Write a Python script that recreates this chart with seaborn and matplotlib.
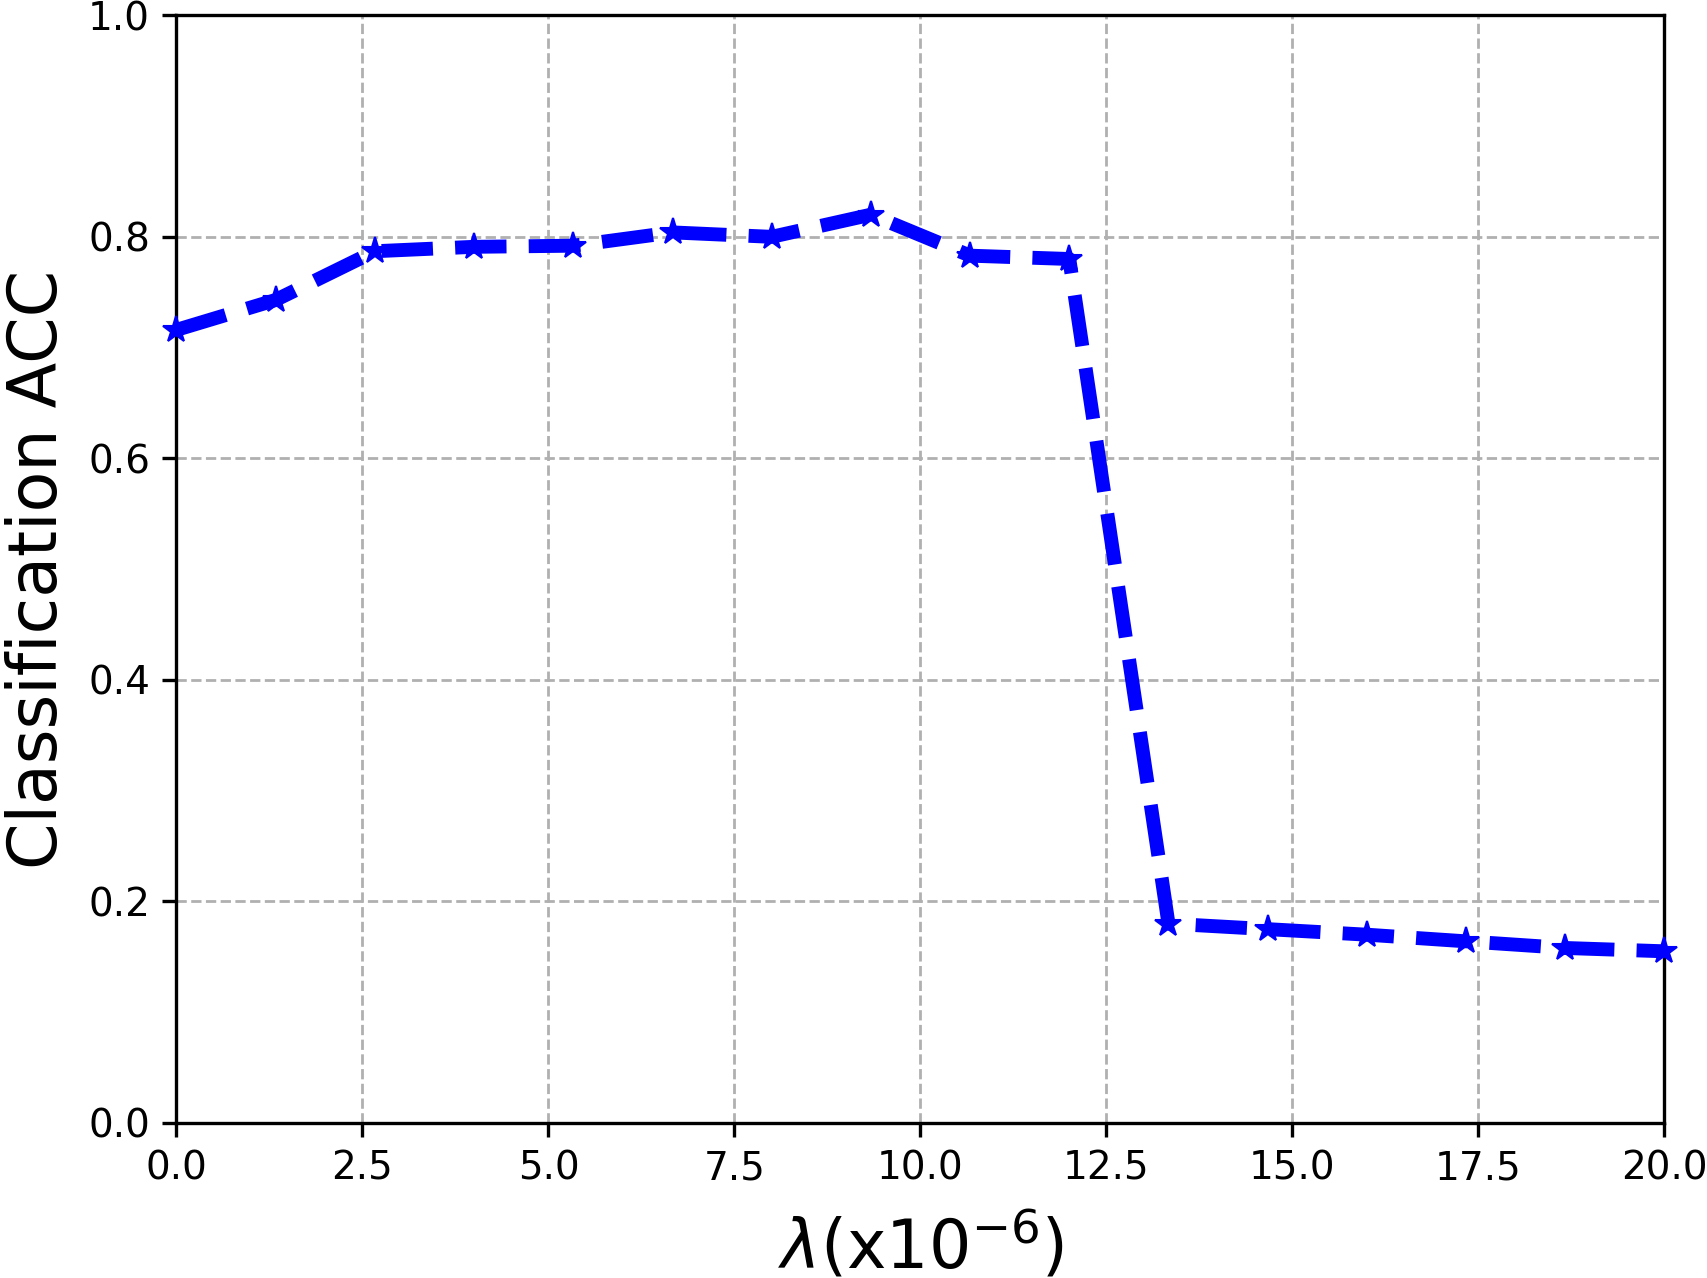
import numpy as np
import pandas as pd
import matplotlib
matplotlib.use("Agg")
import matplotlib.pyplot as plt
import seaborn as sns

lambdas = [0.0, 1.333, 2.667, 4.0, 5.333, 6.667, 8.0, 9.333, 10.667, 12.0,
           13.333, 14.667, 16.0, 17.333, 18.667, 20.0]
acc = [0.716, 0.743, 0.787, 0.791, 0.792, 0.804, 0.800, 0.820, 0.783, 0.780,
       0.180, 0.175, 0.170, 0.164, 0.158, 0.155]

df = pd.DataFrame({"lam": lambdas, "acc": acc})

plt.rcParams['font.family'] = ['DejaVu Sans']
fig = plt.figure(figsize=(8.54, 6.39), dpi=200)
ax = fig.add_subplot(111)
fig.subplots_adjust(left=176.5/1708, right=1664.5/1708,
                    top=1-15.3/1278, bottom=1-1123/1278)

sns.lineplot(data=df, x="lam", y="acc", ax=ax, color="blue", linestyle="--",
             linewidth=5, marker="*", markersize=10, markeredgecolor="blue",
             clip_on=False, zorder=3)

ax.set_xlim(0, 20)
ax.set_ylim(0, 1.0)
ax.grid(True, linestyle="--", color="#b0b0b0", linewidth=1.0)
ax.set_axisbelow(True)
for s in ax.spines.values():
    s.set_linewidth(1.2)
ax.tick_params(labelsize=14, length=5, width=1.2, pad=4.5)
ax.set_xlabel(r"$\lambda$(x10$^{-6}$)", fontsize=24, labelpad=8)
ax.set_ylabel("Classification ACC", fontsize=24, labelpad=6)

fig.savefig("out.png", dpi=200)
